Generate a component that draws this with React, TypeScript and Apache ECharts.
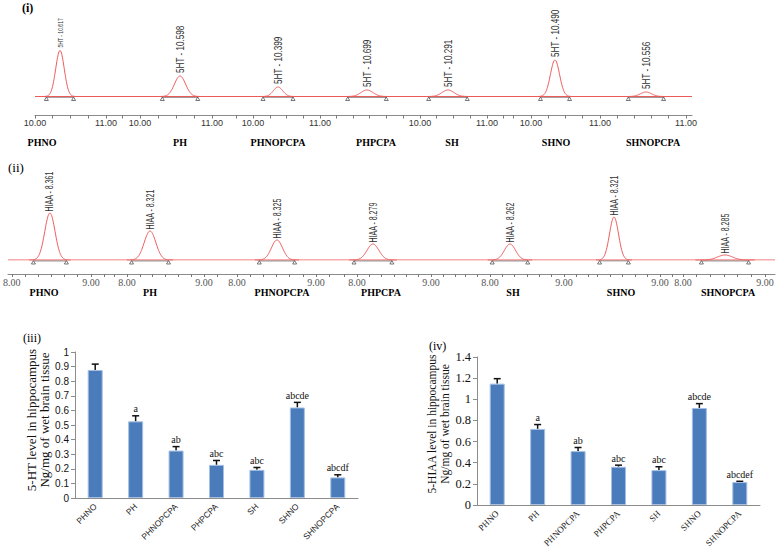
import React, { useEffect, useRef } from "react";
import * as echarts from "echarts";

// ---------- data ----------
const groups = ["PHNO", "PH", "PHNOPCPA", "PHPCPA", "SH", "SHNO", "SHNOPCPA"];

// (i) 5-HT chromatograms
const htPeakLabels = ["5HT - 10.617", "5HT - 10.598", "5HT - 10.399", "5HT - 10.699", "5HT - 10.291", "5HT - 10.490", "5HT - 10.556"];
const htPeakSegment = [0, 1, 2, 3, 3, 4, 5];
const htPeakTimes = [10.352, 10.556, 10.373, 9.209, 10.418, 10.348, 10.42];
const htPeakHeights = [46, 20.5, 9.5, 6.5, 6.5, 36.5, 4.5];
const htPeakWidths = [0.06, 0.077, 0.07, 0.09, 0.09, 0.066, 0.08];
const htTickLabels = [10, 11];

// (ii) 5-HIAA chromatograms
const hiaaPeakLabels = ["HIAA - 8.361", "HIAA - 8.321", "HIAA - 8.325", "HIAA - 8.279", "HIAA - 8.262", "HIAA - 8.321", "HIAA - 8.285"];
const hiaaPeakSegment = [0, 1, 2, 3, 4, 5, 6];
const hiaaPeakTimes = [8.482, 8.299, 8.506, 8.216, 8.27, 8.387, 8.512];
const hiaaPeakHeights = [47, 29, 20, 16, 16, 43, 5];
const hiaaPeakWidths = [0.065, 0.075, 0.07, 0.08, 0.075, 0.06, 0.09];
const hiaaTickLabels = [8, 9];

// (iii) 5-HT level
const htMeans = [0.877, 0.525, 0.325, 0.227, 0.193, 0.62, 0.141];
const htErrors = [0.04, 0.038, 0.027, 0.03, 0.016, 0.035, 0.018];
const htLetters = ["", "a", "ab", "abc", "abc", "abcde", "abcdf"];

// (iv) 5-HIAA level
const hiaaMeans = [1.148, 0.72, 0.51, 0.362, 0.33, 0.918, 0.217];
const hiaaErrors = [0.047, 0.041, 0.034, 0.015, 0.032, 0.041, 0.007];
const hiaaLetters = ["", "a", "ab", "abc", "abc", "abcde", "abcdef"];

// ---------- layout ----------
const rowISegments = [
  { left: 35, right: 112, min: 10.0, max: 11.085, showLabels: [true, true] },
  { left: 112, right: 222, min: 9.611, max: 11.139, showLabels: [true, true] },
  { left: 222, right: 332, min: 9.537, max: 11.179, showLabels: [true, true] },
  { left: 332, right: 506, min: 8.687, max: 11.284, showLabels: [true, true] },
  { left: 506, right: 610, min: 9.638, max: 11.145, showLabels: [true, true] },
  { left: 610, right: 692, min: 9.899, max: 11.087, showLabels: [false, true] },
];
const rowIISegments = [
  { left: 3, right: 110, min: 7.952, max: 9.241, showLabels: [true, true] },
  { left: 110, right: 225, min: 7.779, max: 9.273, showLabels: [true, true] },
  { left: 225, right: 335, min: 7.848, max: 9.241, showLabels: [true, true] },
  { left: 335, right: 460, min: 7.703, max: 9.392, showLabels: [true, true] },
  { left: 460, right: 590, min: 7.595, max: 9.351, showLabels: [true, true] },
  { left: 590, right: 675, min: 8.067, max: 9.2, showLabels: [true, true] },
  { left: 675, right: 775, min: 7.902, max: 9.122, showLabels: [true, true] },
];
const rowIGroupX = [42, 180, 278, 376, 452, 556, 653];
const rowIIGroupX = [44, 150, 282, 381, 513, 621, 728];

const SERIF = "'Liberation Serif', 'Times New Roman', serif";
const SANS = "'Liberation Sans', Arial, sans-serif";
const TRACE = "#ee5a5a";

function tickValues(min: number, max: number, step: number, base: number) {
  const out: number[] = [];
  const k0 = Math.ceil((min - base) / step - 1e-9);
  const k1 = Math.floor((max - base) / step + 1e-9);
  for (let k = k0; k <= k1; k++) out.push(+(base + k * step).toFixed(4));
  return out;
}

function buildOption() {
  const grid: any[] = [];
  const xAxis: any[] = [];
  const yAxis: any[] = [];
  const series: any[] = [];

  const addChromRow = (
    segs: any[],
    top: number,
    offset: number,
    tickStep: number,
    tickBase: number,
    labelVals: number[],
    labelFont: any,
    peakSeg: number[],
    times: number[],
    heights: number[],
    widths: number[],
    labels: string[],
    labelStyle: (i: number) => { size: number; scale: number; gap: number }
  ) => {
    segs.forEach((s, si) => {
      const gi = grid.length;
      grid.push({ left: s.left, top: top, width: s.right - s.left, height: 60 });
      xAxis.push({
        type: "value",
        gridIndex: gi,
        min: s.min,
        max: s.max,
        offset: offset,
        axisLine: { show: true, onZero: false, lineStyle: { color: "#8a8a8a", width: 1 } },
        axisTick: {
          show: true,
          length: 3,
          lineStyle: { color: "#777" },
          customValues: tickValues(s.min, s.max, tickStep, tickBase),
        },
        axisLabel: {
          show: true,
          customValues: labelVals.filter((v, li) => s.showLabels[li] && v >= s.min - 1e-6 && v <= s.max + 1e-6),
          formatter: (v: number) => v.toFixed(2),
          margin: 3,
          showMinLabel: true,
          showMaxLabel: true,
          ...labelFont,
        },
        splitLine: { show: false },
      });
      yAxis.push({ type: "value", gridIndex: gi, min: 0, max: 60, show: false });
      series.push({
        type: "line",
        xAxisIndex: gi,
        yAxisIndex: gi,
        data: [
          [s.min, 0],
          [s.max, 0],
        ],
        symbol: "none",
        silent: true,
        lineStyle: { color: TRACE, width: 1 },
      });
      const idx = peakSeg.map((p, i) => (p === si ? i : -1)).filter((i) => i >= 0);
      series.push({
        type: "custom",
        xAxisIndex: gi,
        yAxisIndex: gi,
        silent: true,
        clip: false,
        data: idx.map((i) => [times[i], heights[i], widths[i], i]),
        renderItem: (params: any, api: any) => {
          const c = api.value(0);
          const h = api.value(1);
          const w = api.value(2);
          const pi = api.value(3);
          const pts: number[][] = [];
          for (let k = -48; k <= 48; k++) {
            const z = k / 12;
            pts.push(api.coord([c + z * w, h * Math.exp(-0.5 * z * z)]));
          }
          const b1 = api.coord([c - 3.2 * w, 0]);
          const b2 = api.coord([c + 3.2 * w, 0]);
          const tp = api.coord([c, h]);
          const ls = labelStyle(pi);
          const tri = (p: number[]) => ({
            type: "polygon",
            shape: { points: [[p[0] - 2, p[1] + 4], [p[0] + 2, p[1] + 4], [p[0], p[1] + 0.5]] },
            style: { fill: "none", stroke: "#555", lineWidth: 0.8 },
          });
          return {
            type: "group",
            children: [
              { type: "line", shape: { x1: b1[0], y1: b1[1] + 0.8, x2: b2[0], y2: b2[1] + 0.8 }, style: { stroke: "#9a9a9a", lineWidth: 1.2 } },
              { type: "polyline", shape: { points: pts }, style: { fill: "none", stroke: TRACE, lineWidth: 1 } },
              tri(b1),
              tri(b2),
              {
                type: "text",
                x: tp[0],
                y: tp[1] - ls.gap,
                rotation: Math.PI / 2,
                scaleX: ls.scale,
                scaleY: 1,
                style: {
                  text: labels[pi],
                  fontFamily: SANS,
                  fontSize: ls.size,
                  fill: "#333",
                  align: "left",
                  verticalAlign: "middle",
                },
              },
            ],
          };
        },
      });
    });
  };

  addChromRow(
    rowISegments,
    36.5,
    19,
    0.25,
    10,
    htTickLabels,
    { fontFamily: SANS, fontSize: 9, color: "#333" },
    htPeakSegment,
    htPeakTimes,
    htPeakHeights,
    htPeakWidths,
    htPeakLabels,
    (i) => (i === 0 ? { size: 7, scale: 0.72, gap: 3 } : { size: 11, scale: 0.74, gap: 3 })
  );
  addChromRow(
    rowIISegments,
    200,
    14,
    1 / 6,
    8,
    hiaaTickLabels,
    { fontFamily: SERIF, fontSize: 10, color: "#555" },
    hiaaPeakSegment,
    hiaaPeakTimes,
    hiaaPeakHeights,
    hiaaPeakWidths,
    hiaaPeakLabels,
    () => ({ size: 11, scale: 0.64, gap: 1.5 })
  );

  // ---------- bar charts ----------
  const addBarChart = (
    g: any,
    yMax: number,
    yInterval: number,
    yLabelFont: any,
    xLabelFont: any,
    name: string,
    nameGap: number,
    nameFont: any,
    means: number[],
    errs: number[],
    letters: string[]
  ) => {
    const gi = grid.length;
    grid.push(g);
    xAxis.push({
      type: "category",
      gridIndex: gi,
      data: groups,
      axisLine: { lineStyle: { color: "#8c8c8c" } },
      axisTick: { length: 4, lineStyle: { color: "#8c8c8c" } },
      axisLabel: { rotate: 45, interval: 0, margin: 7, color: "#222", ...xLabelFont },
      splitLine: { show: false },
    });
    yAxis.push({
      type: "value",
      gridIndex: gi,
      min: 0,
      max: yMax,
      interval: yInterval,
      axisLine: { show: true, lineStyle: { color: "#8c8c8c" } },
      axisTick: { show: true, length: 4, lineStyle: { color: "#8c8c8c" } },
      axisLabel: { color: "#111", margin: 6, ...yLabelFont },
      splitLine: { show: false },
      name: name,
      nameLocation: "middle",
      nameRotate: 90,
      nameGap: nameGap,
      nameTextStyle: { fontFamily: SERIF, color: "#111", ...nameFont },
    });
    series.push({
      type: "bar",
      xAxisIndex: gi,
      yAxisIndex: gi,
      data: means,
      barWidth: 15,
      silent: true,
      itemStyle: { color: "#4a7cbc", borderColor: "#a5c0e3", borderWidth: 1 },
    });
    series.push({
      type: "custom",
      xAxisIndex: gi,
      yAxisIndex: gi,
      silent: true,
      data: means.map((m, i) => [i, m, errs[i]]),
      renderItem: (params: any, api: any) => {
        const i = api.value(0);
        const m = api.value(1);
        const e = api.value(2);
        const p0 = api.coord([i, m]);
        const p1 = api.coord([i, m + e]);
        return {
          type: "group",
          children: [
            { type: "line", shape: { x1: p0[0], y1: p0[1], x2: p1[0], y2: p1[1] }, style: { stroke: "#111", lineWidth: 1.5 } },
            { type: "line", shape: { x1: p1[0] - 3.5, y1: p1[1], x2: p1[0] + 3.5, y2: p1[1] }, style: { stroke: "#111", lineWidth: 1.5 } },
            {
              type: "text",
              x: p1[0],
              y: p1[1] - 2,
              style: { text: letters[params.dataIndex], fontFamily: SERIF, fontSize: 10, fill: "#111", align: "center", verticalAlign: "bottom" },
            },
          ],
        };
      },
    });
  };

  addBarChart(
    { left: 75, top: 352, width: 283, height: 146 },
    1,
    0.1,
    { fontFamily: SANS, fontSize: 10 },
    { fontFamily: SANS, fontSize: 8.5 },
    "5-HT level in hippocampus\nNg/mg of wet brain tissue",
    23,
    { fontSize: 13, lineHeight: 13, padding: [0, 0, 0, 10] },
    htMeans,
    htErrors,
    htLetters
  );
  addBarChart(
    { left: 477, top: 357, width: 283, height: 148 },
    1.4,
    0.2,
    { fontFamily: SERIF, fontSize: 12.5 },
    { fontFamily: SERIF, fontSize: 9 },
    "5-HIAA level in hippocampus\nNg/mg of wet brain tissue",
    25,
    { fontSize: 11.5, lineHeight: 13, padding: [0, 0, 0, 14] },
    hiaaMeans,
    hiaaErrors,
    hiaaLetters
  );

  const graphic: any[] = [
    { type: "text", x: 22, y: 2, style: { text: "(i)", fontFamily: SERIF, fontSize: 12, fontWeight: "bold", fill: "#000" } },
    { type: "text", x: 8, y: 161, style: { text: "(ii)", fontFamily: SERIF, fontSize: 13, fill: "#000" } },
    { type: "text", x: 23, y: 332, style: { text: "(iii)", fontFamily: SERIF, fontSize: 12, fill: "#000" } },
    { type: "text", x: 429, y: 340, style: { text: "(iv)", fontFamily: SERIF, fontSize: 12, fill: "#000" } },
  ];
  groups.forEach((gName, i) => {
    graphic.push({
      type: "text",
      x: rowIGroupX[i],
      y: 142,
      style: { text: gName, fontFamily: SERIF, fontSize: 10, fontWeight: "bold", fill: "#000", align: "center", verticalAlign: "middle" },
    });
    graphic.push({
      type: "text",
      x: rowIIGroupX[i],
      y: 292.5,
      style: { text: gName, fontFamily: SERIF, fontSize: 10, fontWeight: "bold", fill: "#000", align: "center", verticalAlign: "middle" },
    });
  });

  return {
    animation: false,
    backgroundColor: "#ffffff",
    grid,
    xAxis,
    yAxis,
    series,
    graphic,
  };
}

export default function App() {
  const ref = useRef<HTMLDivElement>(null);
  useEffect(() => {
    document.body.style.margin = "0";
    const chart = echarts.init(ref.current!, null, { renderer: "svg" });
    chart.setOption(buildOption() as any);
    return () => chart.dispose();
  }, []);
  return <div ref={ref} style={{ width: 778, height: 552 }} />;
}
